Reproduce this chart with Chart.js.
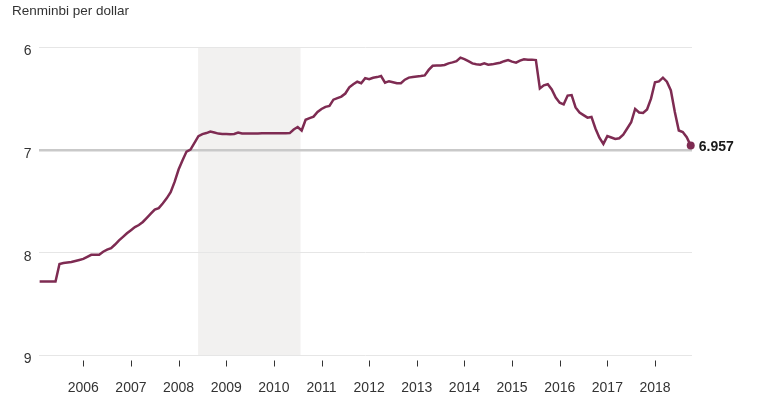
<!DOCTYPE html>
<html>
<head>
<meta charset="utf-8">
<style>
html, body { margin: 0; padding: 0; background: #fff; }
#wrap { position: relative; width: 770px; height: 402px; }
#wrap canvas { position: absolute; left: 0; top: 0; }
#title { position: absolute; left: 12px; top: 3px; font: 13.5px "Liberation Sans", Arial, sans-serif; color: #333; }
</style>
<script src="https://cdn.jsdelivr.net/npm/chart.js@4/dist/chart.umd.min.js"></script>
</head>
<body>
<div id="wrap">
  <canvas id="rmbChart" width="770" height="402"></canvas>
  <div id="title">Renminbi per dollar</div>
</div>
<script>
// renminbi per US dollar, monthly, Feb 2005 - Oct 2018
const firstYear = 2005, firstMonth = 2;
const rates = [
  8.28, 8.28, 8.28, 8.28, 8.28, 8.11, 8.10, 8.095, 8.09, 8.08, 8.07,            // 2005
  8.06, 8.04, 8.02, 8.02, 8.02, 7.99, 7.97, 7.955, 7.92, 7.88, 7.845, 7.81,      // 2006
  7.78, 7.75, 7.73, 7.70, 7.66, 7.62, 7.58, 7.565, 7.52, 7.47, 7.41, 7.31,       // 2007
  7.19, 7.10, 7.015, 6.995, 6.93, 6.865, 6.845, 6.835, 6.82, 6.83, 6.84, 6.843,  // 2008
  6.845, 6.847, 6.843, 6.83, 6.838, 6.84, 6.84, 6.838, 6.838, 6.837, 6.837, 6.837, // 2009
  6.837, 6.837, 6.837, 6.837, 6.835, 6.80, 6.776, 6.81, 6.705, 6.69, 6.675, 6.63, // 2010
  6.60, 6.58, 6.57, 6.51, 6.495, 6.48, 6.45, 6.39, 6.36, 6.335, 6.35, 6.30,      // 2011
  6.31, 6.296, 6.29, 6.28, 6.345, 6.33, 6.34, 6.35, 6.35, 6.315, 6.295, 6.29,    // 2012
  6.285, 6.28, 6.274, 6.22, 6.18, 6.178, 6.177, 6.172, 6.156, 6.147, 6.135, 6.10, // 2013
  6.115, 6.135, 6.157, 6.165, 6.17, 6.156, 6.17, 6.166, 6.158, 6.15, 6.135, 6.125, // 2014
  6.14, 6.15, 6.13, 6.117, 6.12, 6.12, 6.124, 6.40, 6.37, 6.36, 6.41, 6.49,      // 2015
  6.54, 6.555, 6.47, 6.465, 6.585, 6.635, 6.66, 6.685, 6.678, 6.79, 6.88, 6.94,  // 2016
  6.864, 6.878, 6.892, 6.885, 6.85, 6.79, 6.73, 6.60, 6.635, 6.64, 6.605, 6.50,  // 2017
  6.34, 6.332, 6.296, 6.335, 6.42, 6.63, 6.81, 6.825, 6.875, 6.957               // 2018
];
const yearTicks = [2006, 2007, 2008, 2009, 2010, 2011, 2012, 2013, 2014, 2015, 2016, 2017, 2018];
const rateTicks = [6, 7, 8, 9];
const pegStart = 2008.41, pegEnd = 2010.56;   // dollar peg during the crisis

const lineColor = '#7e2b52';

// month -> decimal year
const points = rates.map((v, i) => {
  const m = firstMonth - 1 + i;
  return { x: firstYear + Math.floor(m / 12) + (m % 12) / 12, y: v };
});

Chart.defaults.font.family = '"Liberation Sans", Arial, sans-serif';
Chart.defaults.color = '#333';

// grey band for the peg
const pegBand = {
  id: 'pegBand',
  beforeDraw(chart) {
    const { ctx, chartArea, scales } = chart;
    const x1 = scales.x.getPixelForValue(pegStart);
    const x2 = scales.x.getPixelForValue(pegEnd);
    ctx.save();
    ctx.fillStyle = '#f2f1f0';
    ctx.fillRect(x1, chartArea.top, x2 - x1, chartArea.bottom - chartArea.top);
    ctx.restore();
  }
};

// small year ticks under the plot + last value label
const extras = {
  id: 'extras',
  afterDraw(chart) {
    const { ctx, chartArea, scales } = chart;
    ctx.save();
    ctx.strokeStyle = '#333';
    ctx.lineWidth = 1;
    yearTicks.forEach(yr => {
      const x = Math.round(scales.x.getPixelForValue(yr)) + 0.5;
      ctx.beginPath();
      ctx.moveTo(x, chartArea.bottom + 5);
      ctx.lineTo(x, chartArea.bottom + 11);
      ctx.stroke();
    });
    const meta = chart.getDatasetMeta(0);
    const last = meta.data[meta.data.length - 1];
    ctx.fillStyle = '#1a1a1a';
    ctx.font = 'bold 14px "Liberation Sans", Arial, sans-serif';
    ctx.textBaseline = 'middle';
    ctx.fillText(rates[rates.length - 1].toFixed(3), last.x + 8, last.y + 2);
    ctx.restore();
  }
};

new Chart(document.getElementById('rmbChart'), {
  type: 'line',
  data: {
    datasets: [{
      data: points,
      borderColor: lineColor,
      backgroundColor: lineColor,
      borderWidth: 2.5,
      tension: 0,
      clip: false,
      pointRadius: ctx => ctx.dataIndex === rates.length - 1 ? 4 : 0,
      pointHoverRadius: 0,
      pointBorderWidth: 0
    }]
  },
  options: {
    responsive: false,
    animation: false,
    devicePixelRatio: 1,
    layout: { padding: { left: 0, right: 78, top: 47.3, bottom: 0 } },
    plugins: { legend: { display: false }, tooltip: { enabled: false } },
    scales: {
      x: {
        type: 'linear',
        min: 2005.07,
        max: 2018.777,
        afterBuildTicks: axis => { axis.ticks = yearTicks.map(v => ({ value: v })); },
        afterFit: axis => { axis.height = 46.5; },
        grid: { display: false },
        border: { display: false },
        ticks: {
          autoSkip: false,
          maxRotation: 0,
          padding: 16,
          font: { size: 14 },
          color: '#333',
          callback: v => String(v)
        }
      },
      y: {
        reverse: true,
        min: 6,
        max: 9,
        afterBuildTicks: axis => { axis.ticks = rateTicks.map(v => ({ value: v })); },
        afterFit: axis => { axis.width = 39; },
        border: { display: false },
        grid: {
          drawTicks: false,
          color: c => c.tick && c.tick.value === 7 ? '#c9c9c9' : '#e6e6e6',
          lineWidth: c => c.tick && c.tick.value === 7 ? 2.5 : 1
        },
        ticks: {
          padding: 7.5,
          labelOffset: 4,
          font: { size: 14 },
          color: '#333'
        }
      }
    }
  },
  plugins: [pegBand, extras]
});
</script>
</body>
</html>
